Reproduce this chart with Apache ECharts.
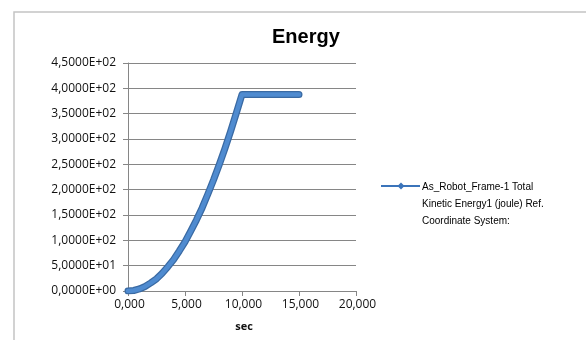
<!DOCTYPE html>
<html>
<head>
<meta charset="utf-8">
<script src="https://cdn.jsdelivr.net/npm/echarts@6/dist/echarts.min.js"></script>
<style>
html,body{margin:0;padding:0;background:#fff;}
#chart{width:586px;height:340px;}
</style>
</head>
<body>
<div id="chart"></div>
<script>
var chartTitle = 'Energy';
var xAxisName = 'sec';
var seriesName = 'As_Robot_Frame-1 Total\nKinetic Energy1 (joule) Ref.\nCoordinate System:';
var timeValues = [0,0.5,1,1.5,2,2.5,3,3.5,4,4.5,5,5.5,6,6.5,7,7.5,8,8.5,9,9.5,10,10.5,11,11.5,12,12.5,13,13.5,14,14.5,15];
var energyValues = [0,1,4,9,16,24,35,48,62,79,97,118,140,164,191,219,249,281,315,351,388,388,388,388,388,388,388,388,388,388,388];
var xTicks = [0,5,10,15,20];
var yTicks = [0,50,100,150,200,250,300,350,400,450];

var pts = timeValues.map(function(t,i){return [t, energyValues[i]];});

function yFmt(v){
  var s = Number(v).toExponential(4);
  var parts = s.split('e');
  var mant = parts[0].replace('.', ',');
  var ex = parseInt(parts[1],10);
  var sign = ex < 0 ? '-' : '+';
  var a = Math.abs(ex);
  return mant + 'E' + sign + (a < 10 ? '0' + a : '' + a);
}
function xFmt(v){ return Number(v).toFixed(3).replace('.', ','); }

var chart = echarts.init(document.getElementById('chart'), null, {renderer:'canvas'});
chart.setOption({
  animation:false,
  backgroundColor:'#ffffff',
  title:{text:chartTitle,left:267,top:22,
    textStyle:{fontFamily:'Liberation Sans',fontSize:20,fontWeight:'bold',color:'#000'}},
  grid:{left:128,right:230,top:63,bottom:49,containLabel:false},
  xAxis:{
    type:'value',min:xTicks[0],max:xTicks[xTicks.length-1],interval:xTicks[1]-xTicks[0],
    name:xAxisName,nameLocation:'middle',nameGap:30,
    nameTextStyle:{fontFamily:'Open Sans',fontSize:11,fontWeight:'bold',color:'#111',padding:[0,0,0,4]},
    axisLine:{show:true,lineStyle:{color:'#868686',width:1}},
    axisTick:{show:true,length:5,inside:false,lineStyle:{color:'#868686'}},
    axisLabel:{formatter:xFmt,fontFamily:'Open Sans',fontSize:12,color:'#111',margin:8,padding:[0,0,0,3]},
    splitLine:{show:false}
  },
  yAxis:{
    type:'value',min:yTicks[0],max:yTicks[yTicks.length-1],interval:yTicks[1]-yTicks[0],
    axisLine:{show:true,lineStyle:{color:'#868686',width:1}},
    axisTick:{show:true,length:5,inside:false,lineStyle:{color:'#868686'}},
    axisLabel:{formatter:yFmt,fontFamily:'Open Sans',fontSize:12,color:'#111',margin:12},
    splitLine:{show:true,lineStyle:{color:'#868686',width:1}}
  },
  graphic:[
    {type:'rect',shape:{x:14,y:12,width:800,height:600},
      style:{fill:'none',stroke:'#c4c4c4',lineWidth:1.5},silent:true,z:-1},
    {type:'line',shape:{x1:381,y1:186,x2:420,y2:186},style:{stroke:'#3b74ba',lineWidth:2},silent:true},
    {type:'polygon',shape:{points:[[401,182.5],[404.5,186],[401,189.5],[397.5,186]]},style:{fill:'#3b74ba'},silent:true},
    {type:'text',left:422,top:179,style:{text:seriesName,fill:'#000',
      font:'10px "Liberation Sans"',lineHeight:17},silent:true}
  ],
  series:[
    {name:'edge',type:'line',data:pts,showSymbol:false,smooth:false,
      lineStyle:{color:'#3a6aa3',width:7,cap:'round',join:'round'},z:2},
    {name:'core',type:'line',data:pts,showSymbol:false,smooth:false,
      lineStyle:{color:'#4f8bd0',width:4.5,cap:'round',join:'round'},z:3}
  ]
});
</script>
</body>
</html>
